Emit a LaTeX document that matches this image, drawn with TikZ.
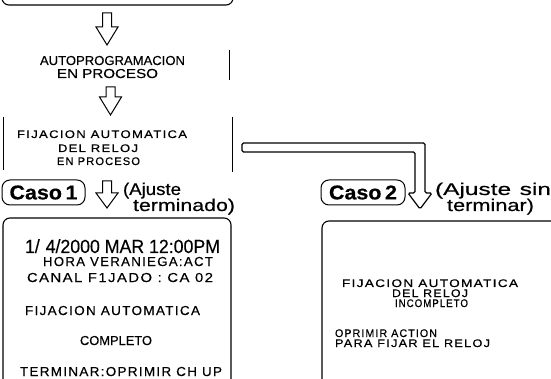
\documentclass[tikz,border=0pt]{standalone}
\usepackage{fontspec}
\setmainfont[FakeBold=0.4]{Liberation Sans}
\newfontfamily\trk[LetterSpace=10,FakeBold=0.4]{Liberation Sans}
\newcommand\fitw[2]{\resizebox{#1}{\height}{#2}}
\newcommand\blockarr[4]{%
  \draw[blk] (#1-4.5,#2) -- (#1-4.5,#3) -- (#1-11,#3) -- (#1,#4) -- (#1+11,#3) -- (#1+4.5,#3) -- (#1+4.5,#2) -- cycle;}
\tikzset{
  txt/.style={anchor=base west, inner sep=0pt, outer sep=0pt},
  sz/.style={font=\fontsize{#1}{#1}\selectfont},
  tsz/.style={font=\fontsize{#1}{#1}\selectfont\trk},
  boxline/.style={line width=1.1pt, rounded corners=7pt},
  thinline/.style={line width=0.9pt},
  blk/.style={line width=1pt, line join=miter, fill=white},
  casobox/.style={draw, line width=1pt, rounded corners=8pt, minimum height=25pt, inner sep=0pt, font=\fontsize{20}{20}\selectfont\bfseries}
}
\begin{document}
\begin{tikzpicture}[x=1pt,y=-1pt]
\useasboundingbox (0,0) rectangle (551,379);
% top box (cut off)
\draw[boxline] (2,-10) -- (2,5) -- (233,5) -- (233,-10);
\blockarr{107}{13}{27}{45}
\node[txt,sz=13] (autop) at (40,65) {\fitw{145pt}{AUTOPROGRAMACION}};
\node[txt,sz=13] (autop2) at (57,78) {\fitw{101pt}{EN PROCESO}};
\draw[thinline] (229,50) -- (229,80);
\blockarr{110.5}{87}{97}{115}
% fijacion en proceso
\draw[thinline] (3,117) -- (3,170);
\draw[thinline] (232,117) -- (232,172);
\node[txt,tsz=11] (fa) at (17,138) {\fitw{170pt}{FIJACION AUTOMATICA}};
\node[txt,tsz=11] (fb) at (58,152) {\fitw{80pt}{DEL RELOJ}};
\node[txt,tsz=11] (fc) at (57,165) {\fitw{83pt}{EN PROCESO}};
% L arrow
\draw[blk, line width=1.2pt, rounded corners=1.5pt] (242,143) -- (425,143) -- (425,193) -- (432,193) -- (420,209) -- (408,193) -- (415,193) -- (415,152) -- (242,152) -- cycle;
% caso 1
\node[casobox, minimum width=83pt] (c1) at (43.5,192.5) {\fitw{68pt}{Caso\,1}};
\blockarr{107}{181}{193}{208}
\node[txt,sz=17] (aj1) at (123,195) {\fitw{58pt}{(Ajuste}};
\node[txt,sz=17] (aj2) at (133,211) {\fitw{102pt}{terminado)}};
% box 1
\draw[boxline] (3,385) -- (3,218) -- (231,218) -- (231,385);
\node[txt,sz=19] (d1) at (25,253) {\fitw{195pt}{1/\,\,4/2000 MAR 12:00PM}};
\node[txt,tsz=13] (d2) at (43,266) {\fitw{170pt}{HORA VERANIEGA:ACT}};
\node[txt,tsz=13] (d3) at (27,282) {\fitw{186pt}{CANAL F1JADO : CA 02}};
\node[txt,tsz=13] (d4) at (25,315) {\fitw{175pt}{FIJACION AUTOMATICA}};
\node[txt,sz=13] (d5) at (80,345) {\fitw{72pt}{COMPLETO}};
\node[txt,tsz=13] (d6) at (20,376) {\fitw{202pt}{TERMINAR:OPRIMIR CH UP}};
% caso 2
\node[casobox, minimum width=84pt] (c2) at (363,192.5) {\fitw{68pt}{Caso\,2}};
\node[txt,sz=17] (aj3) at (435,195) {\fitw{116pt}{(Ajuste\hspace{6pt}sin}};
\node[txt,sz=17] (aj4) at (447,211) {\fitw{87pt}{terminar)}};
% box 2
\draw[boxline] (322,385) -- (322,221) -- (560,221);
\node[txt,tsz=11] (e1) at (342,287) {\fitw{176pt}{FIJACION AUTOMATICA}};
\node[txt,tsz=11] (e2) at (392,297) {\fitw{76pt}{DEL RELOJ}};
\node[txt,tsz=11] (e3) at (395,307) {\fitw{73pt}{INCOMPLETO}};
\node[txt,tsz=11] (e4) at (335,337) {\fitw{102pt}{OPRIMIR ACTION}};
\node[txt,tsz=11] (e5) at (335,347) {\fitw{155pt}{PARA FIJAR EL RELOJ}};
\end{tikzpicture}
\end{document}
